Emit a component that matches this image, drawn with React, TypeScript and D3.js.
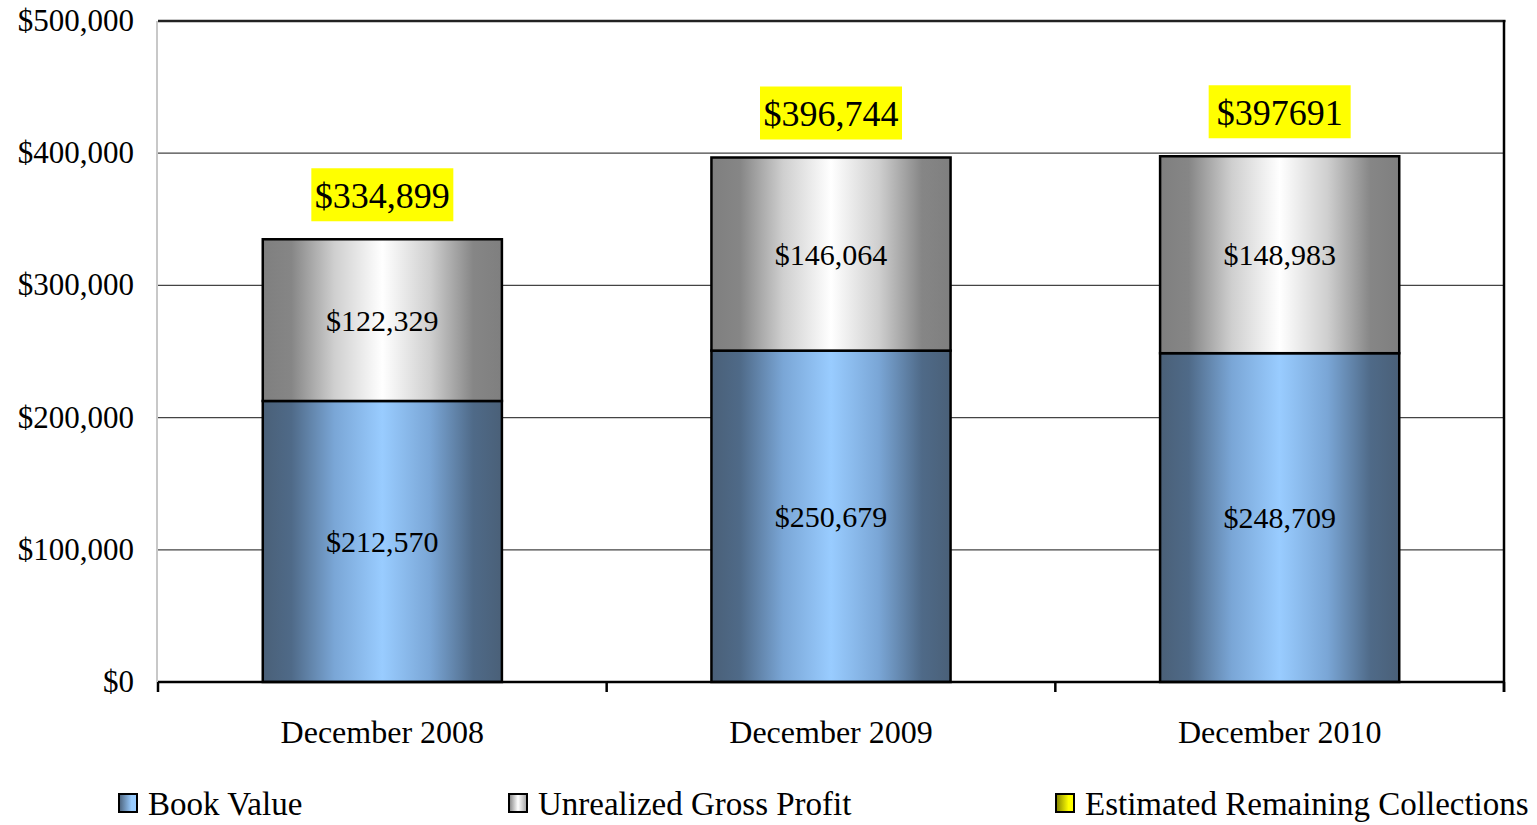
import React from "react";
import * as d3 from "d3";

const categories = ["December 2008", "December 2009", "December 2010"];
const bookValue = [212570, 250679, 248709];
const unrealizedGrossProfit = [122329, 146064, 148983];
const estimatedRemaining = [334899, 396744, 397691];
const estimatedLabels = ["$334,899", "$396,744", "$397691"];
const yTicks = [0, 100000, 200000, 300000, 400000, 500000];
const legendItems = [
  { name: "Book Value", grad: "gBlueL" },
  { name: "Unrealized Gross Profit", grad: "gGrayL" },
  { name: "Estimated Remaining Collections", grad: "gYellowL" },
];

const W = 1537;
const H = 825;
const left = 158;
const right = 1504;
const top = 21;
const bottom = 682;
const FONT = "'Liberation Serif', 'Times New Roman', serif";

export default function App() {
  const x = d3
    .scaleBand<string>()
    .domain(categories)
    .range([left, right])
    .paddingInner(0.467)
    .paddingOuter(0.2335);
  const y = d3.scaleLinear().domain([0, 500000]).range([bottom, top]);
  const fmt = d3.format(",");
  const bw = x.bandwidth();
  const step = x.step();
  const boundaries = [0, 1, 2, 3].map((i) => left + i * step);
  const legendX = [119, 509, 1056];

  return (
    <svg
      width={W}
      height={H}
      style={{ position: "absolute", left: 0, top: 0, display: "block", background: "#fff" }}
      fontFamily={FONT}
    >
      <defs>
        <linearGradient id="gBlue" x1="0" x2="1" y1="0" y2="0">
          <stop offset="0" stopColor="#4a6078" />
          <stop offset="0.12" stopColor="#4f6a88" />
          <stop offset="0.3" stopColor="#7aa6d6" />
          <stop offset="0.5" stopColor="#99ccff" />
          <stop offset="0.7" stopColor="#7aa6d6" />
          <stop offset="0.88" stopColor="#4f6a88" />
          <stop offset="1" stopColor="#4a6078" />
        </linearGradient>
        <linearGradient id="gGray" x1="0" x2="1" y1="0" y2="0">
          <stop offset="0" stopColor="#7f7f7f" />
          <stop offset="0.12" stopColor="#868686" />
          <stop offset="0.3" stopColor="#cfcfcf" />
          <stop offset="0.5" stopColor="#ffffff" />
          <stop offset="0.7" stopColor="#cfcfcf" />
          <stop offset="0.88" stopColor="#868686" />
          <stop offset="1" stopColor="#7f7f7f" />
        </linearGradient>
        <linearGradient id="gBlueL" x1="0" x2="1" y1="0" y2="0">
          <stop offset="0" stopColor="#4a6078" />
          <stop offset="0.7" stopColor="#99ccff" />
          <stop offset="1" stopColor="#99ccff" />
        </linearGradient>
        <linearGradient id="gGrayL" x1="0" x2="1" y1="0" y2="0">
          <stop offset="0" stopColor="#7f7f7f" />
          <stop offset="0.5" stopColor="#ffffff" />
          <stop offset="1" stopColor="#9f9f9f" />
        </linearGradient>
        <linearGradient id="gYellowL" x1="0" x2="1" y1="0" y2="0">
          <stop offset="0" stopColor="#808000" />
          <stop offset="0.7" stopColor="#ffff00" />
          <stop offset="1" stopColor="#ffff00" />
        </linearGradient>
      </defs>

      {/* gridlines */}
      {yTicks.slice(1, 5).map((t) => (
        <line key={t} x1={left} x2={right} y1={y(t)} y2={y(t)} stroke="#444" strokeWidth={1.3} />
      ))}
      {/* top border */}
      <line x1={left} x2={right + 1.5} y1={top} y2={top} stroke="#222" strokeWidth={2.5} />
      {/* right border */}
      <line x1={right} x2={right} y1={top - 1} y2={bottom + 10} stroke="#000" strokeWidth={2.5} />
      {/* left axis */}
      <line x1={left - 1} x2={left - 1} y1={top} y2={bottom} stroke="#c8c8c8" strokeWidth={2} />

      {/* bars */}
      {categories.map((c, i) => {
        const x0 = x(c)!;
        const yb = y(bookValue[i]);
        const yt = y(bookValue[i] + unrealizedGrossProfit[i]);
        return (
          <g key={c}>
            <rect x={x0} y={yb} width={bw} height={bottom - yb} fill="url(#gBlue)" stroke="#000" strokeWidth={2.5} />
            <rect x={x0} y={yt} width={bw} height={yb - yt} fill="url(#gGray)" stroke="#000" strokeWidth={2.5} />
            <text x={x0 + bw / 2} y={(yb + bottom) / 2} dy="0.35em" textAnchor="middle" fontSize={30} fill="#000">
              {"$" + fmt(bookValue[i])}
            </text>
            <text x={x0 + bw / 2} y={(yt + yb) / 2} dy="0.35em" textAnchor="middle" fontSize={30} fill="#000">
              {"$" + fmt(unrealizedGrossProfit[i])}
            </text>
          </g>
        );
      })}

      {/* estimated remaining collections labels */}
      {categories.map((c, i) => {
        const cx = x(c)! + bw / 2;
        const boxBottom = y(estimatedRemaining[i]) - 18;
        const bh = 53;
        const bwid = 142;
        return (
          <g key={"e" + c}>
            <rect x={cx - bwid / 2} y={boxBottom - bh} width={bwid} height={bh} fill="#ffff00" />
            <text x={cx} y={boxBottom - bh / 2 + 13} textAnchor="middle" fontSize={36} fill="#000">
              {estimatedLabels[i]}
            </text>
          </g>
        );
      })}

      {/* bottom axis */}
      <line x1={left} x2={right} y1={bottom} y2={bottom} stroke="#000" strokeWidth={2.5} />
      {boundaries.map((bx, i) => (
        <line key={i} x1={bx} x2={bx} y1={bottom} y2={bottom + 10} stroke="#000" strokeWidth={2.5} />
      ))}

      {/* y tick labels */}
      {yTicks.map((t) => (
        <text key={t} x={134} y={y(t) + 10} textAnchor="end" fontSize={31} fill="#000">
          {"$" + fmt(t)}
        </text>
      ))}

      {/* category labels */}
      {categories.map((c) => (
        <text key={"c" + c} x={x(c)! + bw / 2} y={743} textAnchor="middle" fontSize={32} fill="#000">
          {c}
        </text>
      ))}

      {/* legend */}
      {legendItems.map((it, i) => (
        <g key={it.name}>
          <rect x={legendX[i]} y={794} width={18} height={18} fill={`url(#${it.grad})`} stroke="#000" strokeWidth={2} />
          <text x={legendX[i] + 29} y={815} fontSize={33} fill="#000">
            {it.name}
          </text>
        </g>
      ))}
    </svg>
  );
}
